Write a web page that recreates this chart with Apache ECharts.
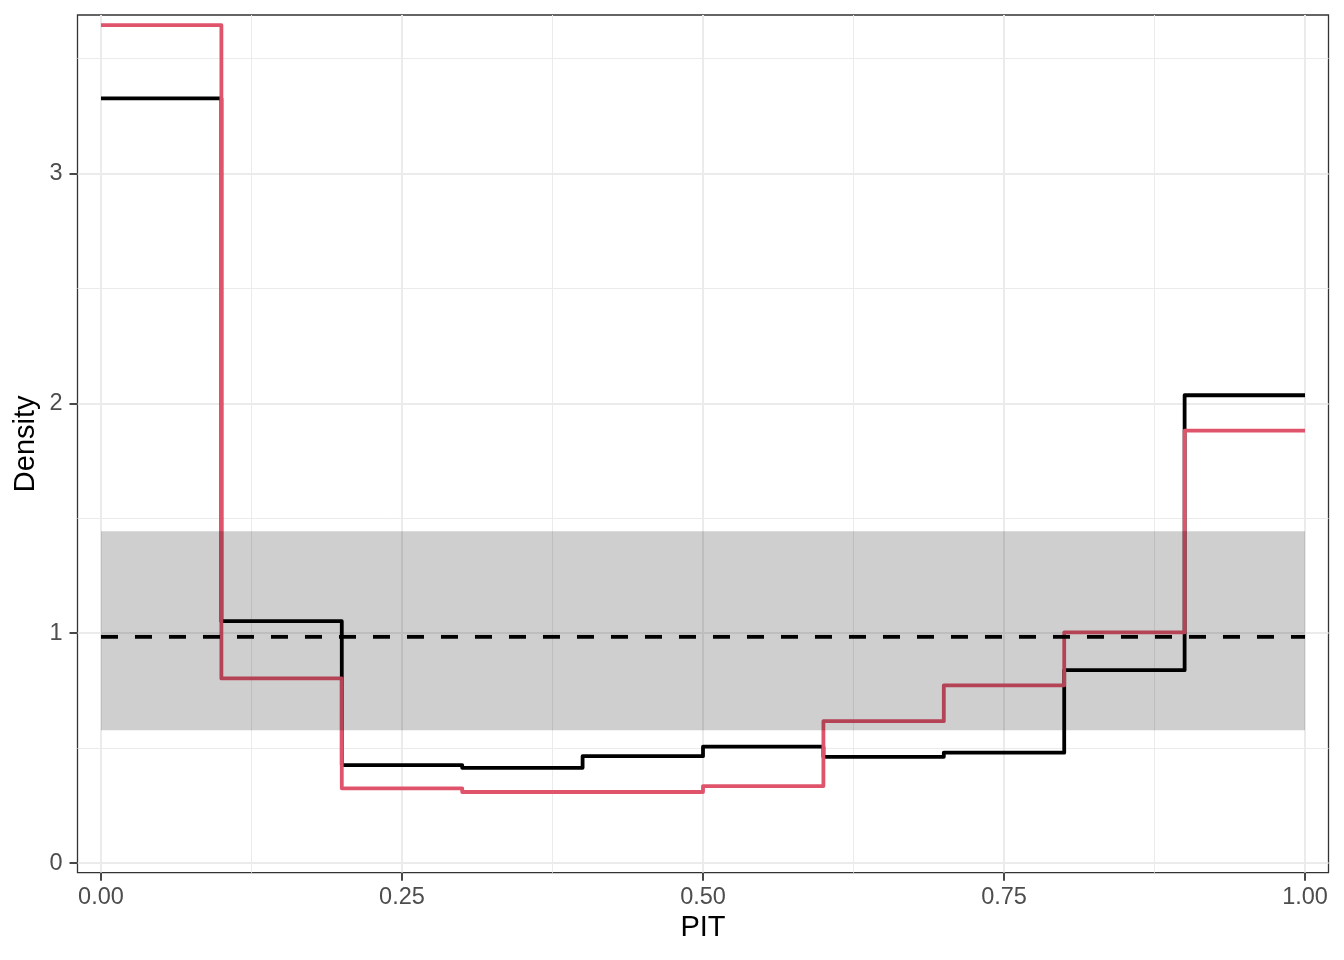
<!DOCTYPE html>
<html>
<head>
<meta charset="utf-8">
<script src="https://cdn.jsdelivr.net/npm/echarts@6/dist/echarts.min.js"></script>
<style>
html,body{margin:0;padding:0;background:#fff;}
#chart{width:1344px;height:960px;}
</style>
</head>
<body>
<div id="chart"></div>
<script>
// ---- data ----
const binStarts = [0.0, 0.1, 0.2, 0.3, 0.4, 0.5, 0.6, 0.7, 0.8, 0.9];
const binEnd = 1.0;
const densityBlack = [3.326, 1.052, 0.426, 0.414, 0.465, 0.506, 0.462, 0.480, 0.839, 2.035];
const densityRed   = [3.645, 0.803, 0.325, 0.309, 0.309, 0.335, 0.617, 0.773, 1.003, 1.881];
const bandRange = [0.0, 1.0];
const bandLower = 0.578;
const bandUpper = 1.443;
const refLevel = 0.984;
const xTicks = [0, 0.25, 0.5, 0.75, 1.0];
const xMinorTicks = [0.125, 0.375, 0.625, 0.875];
const yTicks = [0, 1, 2, 3];
const yMinorTicks = [0.5, 1.5, 2.5, 3.5];
const xLabelText = ['0.00', '0.25', '0.50', '0.75', '1.00'];
const xTitle = 'PIT';
const yTitle = 'Density';

// ---- build ----
function stepData(dens) {
  const pts = binStarts.map((x, i) => [x, dens[i]]);
  pts.push([binEnd, dens[dens.length - 1]]);
  return pts;
}
const FONT = '"Liberation Sans", Arial, Helvetica, sans-serif';
const XMIN = -0.0195, XMAX = 1.0195, YMIN = -0.042, YMAX = 3.689;
const gridColor = '#EBEBEB';
const LW = 3.8;
const hiddenTick = {show: false, length: 0, lineStyle: {color: 'rgba(0,0,0,0)', width: 0}};

const chart = echarts.init(document.getElementById('chart'), null, {renderer: 'canvas'});
const option = {
  animation: false,
  backgroundColor: '#ffffff',
  grid: {
    left: 77.5, right: 15.5, top: 15, bottom: 87.3,
    containLabel: false, outerBoundsMode: 'none',
    show: true, borderColor: '#333333', borderWidth: 1.3, backgroundColor: 'transparent'
  },
  xAxis: [{
    type: 'value', min: XMIN, max: XMAX, position: 'bottom',
    axisLine: {show: false, onZero: false},
    axisTick: {show: true, length: 8, customValues: xTicks, lineStyle: {color: '#333333', width: 1.8}},
    axisLabel: {show: true, customValues: xTicks, margin: 13, color: '#4D4D4D', fontSize: 23.5, fontFamily: FONT,
      formatter: v => { const i = xTicks.indexOf(v); return i >= 0 ? xLabelText[i] : ''; }},
    splitLine: {show: true, lineStyle: {color: gridColor, width: 2}},
    minorTick: {show: false}, minorSplitLine: {show: false}
  }, {
    type: 'value', min: XMIN, max: XMAX, position: 'bottom',
    axisLine: {show: false, onZero: false},
    axisTick: Object.assign({customValues: xMinorTicks}, hiddenTick),
    axisLabel: {show: false, customValues: xMinorTicks},
    splitLine: {show: true, lineStyle: {color: gridColor, width: 1}}
  }],
  yAxis: [{
    type: 'value', min: YMIN, max: YMAX, position: 'left',
    axisLine: {show: false, onZero: false},
    axisTick: {show: true, length: 8, customValues: yTicks, lineStyle: {color: '#333333', width: 1.8}},
    axisLabel: {show: true, customValues: yTicks, margin: 15, color: '#4D4D4D', fontSize: 23.5, fontFamily: FONT,
      formatter: v => String(v)},
    splitLine: {show: true, lineStyle: {color: gridColor, width: 2}}
  }, {
    type: 'value', min: YMIN, max: YMAX, position: 'left',
    axisLine: {show: false, onZero: false},
    axisTick: Object.assign({customValues: yMinorTicks}, hiddenTick),
    axisLabel: {show: false, customValues: yMinorTicks},
    splitLine: {show: true, lineStyle: {color: gridColor, width: 1}}
  }],
  series: [{
    name: 'black', type: 'line', step: 'end', data: stepData(densityBlack),
    xAxisIndex: 0, yAxisIndex: 0, symbol: 'none', z: 2, silent: true,
    lineStyle: {color: '#000000', width: LW, join: 'round'}
  }, {
    name: 'red', type: 'line', step: 'end', data: stepData(densityRed),
    xAxisIndex: 0, yAxisIndex: 0, symbol: 'none', z: 2, silent: true,
    lineStyle: {color: '#DF536B', width: LW, join: 'round'}
  }, {
    name: 'band', type: 'custom', xAxisIndex: 0, yAxisIndex: 0, z: 3, silent: true,
    data: [[bandRange[0], bandRange[1], bandLower, bandUpper]],
    encode: {x: [0, 1], y: [2, 3]},
    renderItem: function (params, api) {
      const p0 = api.coord([api.value(0), api.value(3)]);
      const p1 = api.coord([api.value(1), api.value(2)]);
      return {type: 'rect', shape: {x: p0[0], y: p0[1], width: p1[0] - p0[0], height: p1[1] - p0[1]},
        style: {fill: 'rgba(0,0,0,0.19)'}};
    }
  }, {
    name: 'ref', type: 'line', data: [[bandRange[0], refLevel], [bandRange[1], refLevel]],
    xAxisIndex: 0, yAxisIndex: 0, symbol: 'none', z: 4, silent: true,
    lineStyle: {color: '#000000', width: LW, type: [17, 17], dashOffset: 0}
  }],
  graphic: [{
    type: 'text', x: 703, y: 928, silent: true,
    style: {text: xTitle, font: '29px ' + FONT, fill: '#000000', align: 'center', verticalAlign: 'middle'}
  }, {
    type: 'text', x: 25.5, y: 443.8, rotation: Math.PI / 2, silent: true,
    style: {text: yTitle, font: '29px ' + FONT, fill: '#000000', align: 'center', verticalAlign: 'middle'}
  }]
};
chart.setOption(option);
</script>
</body>
</html>
